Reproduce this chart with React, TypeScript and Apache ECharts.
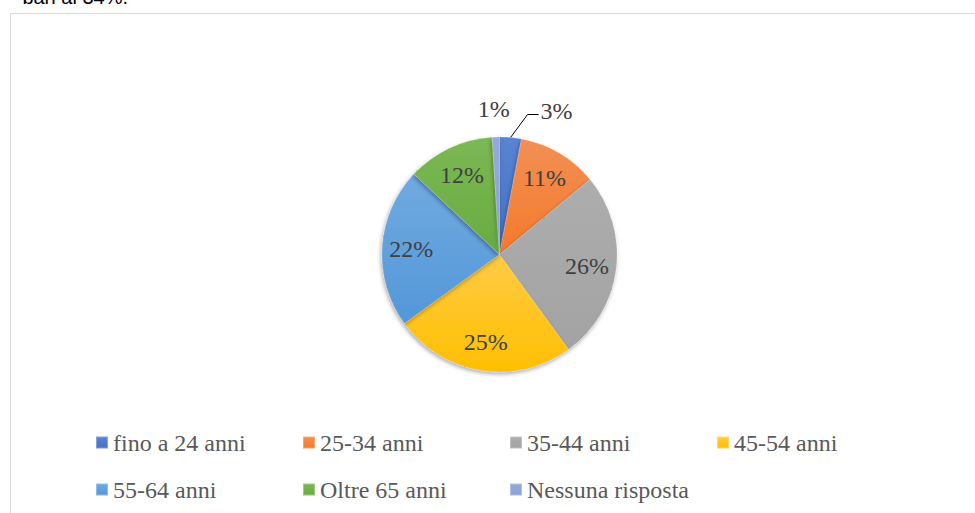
import React, { useEffect, useRef } from "react";
import * as echarts from "echarts";

const categories = [
  "fino a 24 anni",
  "25-34 anni",
  "35-44 anni",
  "45-54 anni",
  "55-64 anni",
  "Oltre 65 anni",
  "Nessuna risposta",
];
const values = [3, 11, 26, 25, 22, 12, 1];
const colorsTop = ["#5a83d2", "#f28f55", "#adadad", "#ffcb47", "#70aae0", "#7cb855", "#93aada"];
const colorsBottom = ["#4470c6", "#f47a2a", "#a3a3a3", "#ffbf00", "#5497d9", "#69ab40", "#8aa2d6"];

const CX = 499.5;
const CY = 254.5;
const R = 117.5;
const SERIF = "Liberation Serif";

export default function App() {
  const ref = useRef<HTMLDivElement>(null);
  useEffect(() => {
    if (!ref.current) return;
    const chart = echarts.init(ref.current, null, { renderer: "svg" });
    const total = values.reduce((a, b) => a + b, 0);
    const midAngles: number[] = [];
    let acc = 0;
    values.forEach((v) => {
      midAngles.push(((acc + v / 2) / total) * Math.PI * 2);
      acc += v;
    });
    const data = categories.map((name, i) => {
      const small = values[i] < 5;
      const item: any = {
        name,
        value: values[i],
        itemStyle: {
          color: new echarts.graphic.LinearGradient(0, 0, 0, 1, [
            { offset: 0, color: colorsTop[i] },
            { offset: 1, color: colorsBottom[i] },
          ]),
        },
      };
      if (small) {
        item.label = { position: "outside" };
        item.labelLine = { show: values[i] > 2, length: 26, length2: 12 };
      }
      return item;
    });
    chart.setOption({
      animation: false,
      backgroundColor: "#ffffff",
      graphic: [
        {
          type: "text",
          x: 128,
          y: 7,
          style: {
            text: "bari al 34%.",
            font: "20px Liberation Sans",
            fill: "#000000",
            align: "right",
            verticalAlign: "bottom",
          },
        },
        {
          type: "rect",
          shape: { x: 10.5, y: 13.5, width: 1100, height: 700 },
          style: { fill: "none", stroke: "#d9d9d9", lineWidth: 1 },
        },
      ],
      legend: {
        left: 95,
        top: 419,
        width: 850,
        padding: 0,
        itemGap: 0,
        itemWidth: 12,
        itemHeight: 12,
        icon: "rect",
        data: categories,
        textStyle: {
          fontFamily: SERIF,
          fontSize: 24,
          color: "#595959",
          width: 189,
          height: 47,
          lineHeight: 47,
        },
      },
      series: [
        {
          type: "pie",
          center: [CX, CY],
          radius: R,
          startAngle: 90,
          clockwise: true,
          data,
          itemStyle: {
            borderColor: "rgba(255,255,255,0.3)",
            borderWidth: 0.5,
            shadowBlur: 4,
            shadowOffsetX: -1,
            shadowOffsetY: 2,
            shadowColor: "rgba(0,0,0,0.35)",
          },
          label: {
            show: true,
            position: "inside",
            formatter: "{c}%",
            fontFamily: SERIF,
            fontSize: 24,
            color: "#404040",
          },
          labelLine: { lineStyle: { color: "#000000", width: 1 } },
          emphasis: { disabled: true },
          labelLayout: (params: any) => {
            const i = params.dataIndex;
            const lr = params.labelRect;
            if (values[i] >= 5) {
              const lx = lr.x + lr.width / 2;
              const ly = lr.y + lr.height / 2;
              const k = 1.43;
              return {
                x: CX + (lx - CX) * k,
                y: CY + (ly - CY) * k,
                align: "center",
                verticalAlign: "middle",
              };
            }
            const a = midAngles[i];
            const ex = CX + R * Math.sin(a);
            const ey = CY - R * Math.cos(a);
            if (values[i] > 2) {
              const p2 = [ex + 17, ey - 23];
              const p3 = [p2[0] + 11, p2[1]];
              return {
                x: p3[0] + 2,
                y: p2[1] - 4,
                align: "left",
                verticalAlign: "middle",
                labelLinePoints: [[ex, ey], p2, p3],
              };
            }
            return {
              x: ex - 2,
              y: ey - 28,
              align: "center",
              verticalAlign: "middle",
            };
          },
        },
      ],
    });
    return () => chart.dispose();
  }, []);
  return (
    <div
      ref={ref}
      style={{ position: "fixed", left: 0, top: 0, width: 975, height: 513 }}
    />
  );
}
